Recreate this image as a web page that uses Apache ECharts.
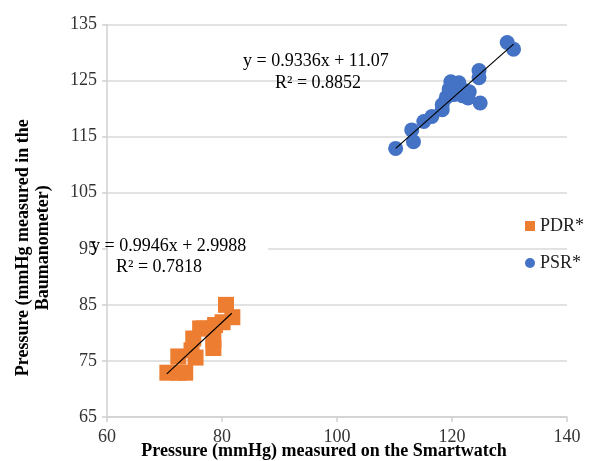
<!DOCTYPE html>
<html>
<head>
<meta charset="utf-8">
<script src="https://cdn.jsdelivr.net/npm/echarts@6/dist/echarts.min.js"></script>
<style>
  html, body { margin: 0; padding: 0; background: #fff; }
  #chart { width: 594px; height: 461px; }
</style>
</head>
<body>
<div id="chart"></div>
<script>
// PDR* (diastolic) points: smartwatch x, baumanometer y
const pdrX = [70.5, 72.4, 73.6, 72.4, 75.4, 74.7, 75.0, 76.2, 76.9, 78.5, 78.5, 78.8, 80.1, 80.7, 81.8];
const pdrY = [72.9, 72.9, 72.9, 75.8, 75.6, 76.9, 79.0, 80.8, 80.8, 78.7, 77.3, 81.4, 81.9, 85.0, 82.8];

// PSR* (systolic) points
const psrX = [110.2, 113.3, 113.0, 115.1, 116.5, 118.3, 118.3, 119.0, 119.5, 119.8, 120.3, 120.8, 121.2, 121.8, 122.3, 122.8, 123.0, 124.7, 124.7, 124.9, 129.6, 130.7];
const psrY = [112.9, 114.1, 116.2, 117.7, 118.6, 119.8, 120.7, 122.0, 123.5, 124.8, 122.5, 123.6, 124.6, 122.3, 123.2, 121.9, 123.0, 126.8, 125.5, 121.0, 131.8, 130.6];

// trendline ends
const pdrTrendX = [70.4, 81.7];
const pdrTrendY = [72.7, 83.5];
const psrTrendX = [110.2, 130.7];
const psrTrendY = [112.9, 131.5];

const xTicks = { min: 60, max: 140, step: 20 };
const yTicks = { min: 65, max: 135, step: 10 };

const font = '"Liberation Serif", "Times New Roman", serif';
const zip = (a, b) => a.map((v, i) => [v, b[i]]);

const chart = echarts.init(document.getElementById('chart'));

function note(text, left, top) {
  return {
    type: 'text', left: left, top: top, z: 10,
    style: { text: text, fontFamily: font, fontSize: 18, fill: '#000' }
  };
}

chart.setOption({
  animation: false,
  textStyle: { fontFamily: font },
  grid: { left: 107, right: 27, top: 24.5, bottom: 44, containLabel: false, outerBoundsMode: 'none' },
  legend: {
    orient: 'vertical',
    left: 520,
    top: 212,
    itemWidth: 10,
    itemHeight: 10,
    itemGap: 19,
    textStyle: { fontFamily: font, fontSize: 18, color: '#222' },
    data: [
      { name: 'PDR*', icon: 'rect' },
      { name: 'PSR*', icon: 'circle' }
    ]
  },
  xAxis: {
    type: 'value',
    min: xTicks.min, max: xTicks.max, interval: xTicks.step,
    name: 'Pressure (mmHg) measured on the Smartwatch',
    nameLocation: 'middle',
    nameGap: 25,
    nameMoveOverlap: false,
    nameTextStyle: {
      fontFamily: font, fontSize: 18, fontWeight: 'bold', color: '#000',
      padding: [0, 26, 0, 0]
    },
    axisLine: { show: true, lineStyle: { color: '#d0d0d0', width: 1.5 } },
    axisTick: { show: true, length: 5, lineStyle: { color: '#d0d0d0', width: 1.5 } },
    axisLabel: { fontFamily: font, fontSize: 18, color: '#333', margin: 11 },
    splitLine: { show: false }
  },
  yAxis: {
    type: 'value',
    min: yTicks.min, max: yTicks.max, interval: yTicks.step,
    name: 'Pressure (mmHg measured in the\nBaumanometer)',
    nameLocation: 'middle',
    nameGap: 54,
    nameMoveOverlap: false,
    nameTextStyle: {
      fontFamily: font, fontSize: 18, fontWeight: 'bold', color: '#000', lineHeight: 20,
      padding: [0, 54, 0, 0]
    },
    axisLine: { show: true, lineStyle: { color: '#d0d0d0', width: 1.5 } },
    axisTick: { show: true, length: 5, lineStyle: { color: '#d0d0d0', width: 1.5 } },
    axisLabel: { fontFamily: font, fontSize: 18, color: '#333', margin: 10 },
    splitLine: { show: true, lineStyle: { color: '#d9d9d9', width: 1.5 } }
  },
  series: [
    {
      name: 'PDR*',
      type: 'scatter',
      symbol: 'rect',
      symbolSize: 16,
      itemStyle: { color: '#ED7D31', opacity: 1 },
      data: zip(pdrX, pdrY)
    },
    {
      name: 'PSR*',
      type: 'scatter',
      symbol: 'circle',
      symbolSize: 15,
      itemStyle: { color: '#4472C4', opacity: 1 },
      data: zip(psrX, psrY)
    },
    {
      name: 'PDR trend',
      type: 'line',
      symbol: 'none',
      z: 5,
      lineStyle: { color: '#000', width: 1.2 },
      data: zip(pdrTrendX, pdrTrendY)
    },
    {
      name: 'PSR trend',
      type: 'line',
      symbol: 'none',
      z: 5,
      lineStyle: { color: '#000', width: 1.2 },
      data: zip(psrTrendX, psrTrendY)
    }
  ],
  graphic: [
    // white box behind the lower equation, hiding the gridline inside the plot
    { type: 'rect', z: 1, shape: { x: 108, y: 240, width: 160, height: 17 }, style: { fill: '#fff' } },
    note('y = 0.9336x + 11.07', 243, 52),
    note('R² = 0.8852', 275, 74),
    note('y = 0.9946x + 2.9988', 91, 237),
    note('R² = 0.7818', 116, 258)
  ]
});
</script>
</body>
</html>
